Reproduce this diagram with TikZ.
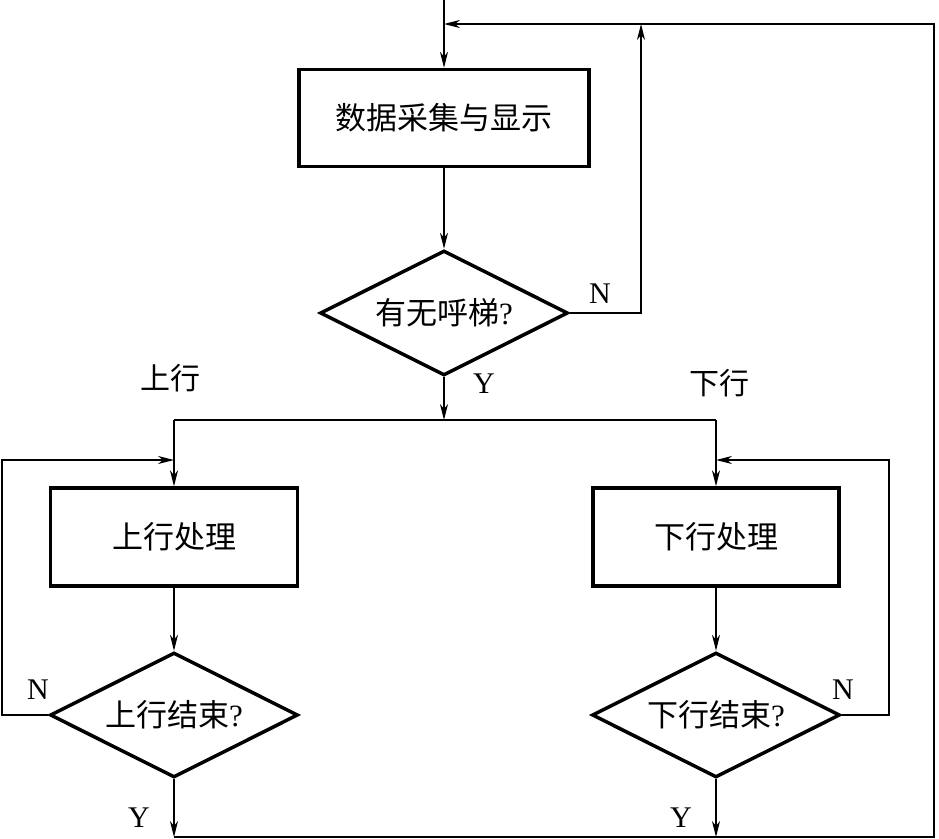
\documentclass[tikz,border=0pt]{standalone}
\usepackage{fontspec}
\setmainfont{Liberation Serif}
\newfontfamily\cjk{Noto Sans CJK SC}
\usetikzlibrary{shapes.geometric,arrows.meta}
\begin{document}
\begin{tikzpicture}[x=1pt,y=-1pt,
  line width=1.3pt,
  arr/.style={-{Stealth[length=16pt,width=8pt,inset=5pt]}},
  procbox/.style={draw,line width=3.5pt,rectangle,inner sep=0pt,font=\fontsize{31}{34}\selectfont},
  decide/.style={draw,line width=3.5pt,diamond,aspect=2,inner sep=0pt,font=\fontsize{31}{34}\selectfont},
  lbl/.style={inner sep=0pt,font=\fontsize{30}{33}\selectfont}]
\useasboundingbox (0,0) rectangle (939,838);
\coordinate (top) at (444,0);
\node[procbox,minimum width=290pt,minimum height=97pt] (b1) at (444,118) {\cjk 数据采集与显示};
\node[decide,minimum width=248pt,minimum height=125pt] (d1) at (444,313) {{\cjk 有无呼梯}?};
\coordinate (sp) at (444,420);
\coordinate (spl) at (174,420);
\coordinate (spr) at (716,420);
\node[procbox,minimum width=247pt,minimum height=98pt] (b2) at (174,537) {\cjk 上行处理};
\node[decide,minimum width=248pt,minimum height=125pt] (d2) at (174,715) {{\cjk 上行结束}?};
\node[procbox,minimum width=246pt,minimum height=98pt] (b3) at (716,537) {\cjk 下行处理};
\node[decide,minimum width=248pt,minimum height=125pt] (d3) at (716,715) {{\cjk 下行结束}?};
% corner coordinates
\coordinate (tl) at (444,24);
\coordinate (tr) at (934,24);
\coordinate (br) at (934,837);
\coordinate (bl) at (174,837);
\coordinate (bm) at (716,837);
\coordinate (n1a) at (641,313);
\coordinate (n1b) at (641,24);
\coordinate (n2a) at (2,715);
\coordinate (n2b) at (2,460);
\coordinate (n2c) at (174,460);
\coordinate (n3a) at (889,715);
\coordinate (n3b) at (889,460);
\coordinate (n3c) at (716,460);
% connectors
\draw[arr] (top) -- (b1.north);
\draw[arr] (b1.south) -- (d1.north);
\draw[arr] (d1.south) -- (sp);
\draw (spl) -- (spr);
\draw[arr] (spl) -- (b2.north);
\draw[arr] (spr) -- (b3.north);
\draw[arr] (b2.south) -- (d2.north);
\draw[arr] (b3.south) -- (d3.north);
\draw[arr] (d1.east) -- (n1a) -- (n1b);
\draw[arr] (d2.west) -- (n2a) -- (n2b) -- (n2c);
\draw[arr] (d3.east) -- (n3a) -- (n3b) -- (n3c);
\draw[arr] (d2.south) -- (bl);
\draw[arr] (d3.south) -- (bm);
\draw[arr] (bl) -- (br) -- (tr) -- (tl);
% labels
\node[lbl] (ln1) at (600,294) {N};
\node[lbl] (ly1) at (484,384) {Y};
\node[lbl] (lup) at (170,378) {\cjk 上行};
\node[lbl] (ldn) at (719,383) {\cjk 下行};
\node[lbl] (ln2) at (38,690) {N};
\node[lbl] (ly2) at (139,818) {Y};
\node[lbl] (ln3) at (843,690) {N};
\node[lbl] (ly3) at (681,818) {Y};
\end{tikzpicture}
\end{document}
